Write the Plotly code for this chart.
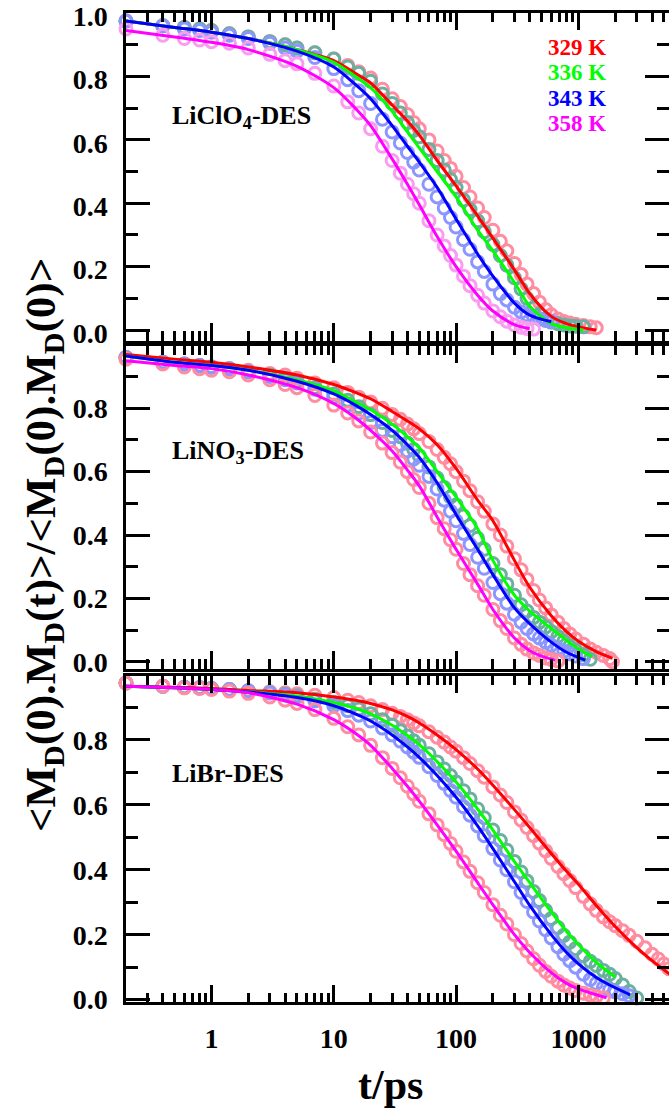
import math
import plotly.graph_objects as go

# ---------------- data ----------------
# sampling times (ps) of the simulated correlation functions
T1 = [0.2, 0.4, 0.6, 0.8, 1, 1.4, 2, 3, 4, 5, 7, 10, 13, 16, 20, 25, 30, 35, 40, 45,
      50, 60, 70, 80, 90, 100, 115, 130, 150, 170, 200, 230, 260, 300, 340, 380, 430,
      480, 540, 600, 680, 760, 850, 950, 1100, 1250, 1400]
T2 = T1 + [1600, 1800, 1900]
T3 = T1 + [1600, 1800, 2000, 2300, 2600, 3000, 3500, 4000, 4500, 5000, 5500, 6000]

temps = ["329 K", "336 K", "343 K", "358 K"]

# LiClO4-DES : simulation points
p1_329 = [0.975, 0.96, 0.955, 0.95, 0.945, 0.935, 0.925, 0.91, 0.9, 0.89,
          0.875, 0.855, 0.835, 0.815, 0.795, 0.76, 0.73, 0.705, 0.68, 0.655,
          0.635, 0.6, 0.565, 0.535, 0.51, 0.485, 0.45, 0.42, 0.385, 0.355,
          0.315, 0.28, 0.25, 0.21, 0.175, 0.145, 0.115, 0.088, 0.065, 0.048,
          0.035, 0.027, 0.022, 0.018, 0.014, 0.01, 0.007]
p1_336 = [0.975, 0.96, 0.955, 0.95, 0.945, 0.935, 0.925, 0.91, 0.9, 0.89,
          0.875, 0.855, 0.83, 0.81, 0.785, 0.745, 0.715, 0.685, 0.655, 0.63,
          0.61, 0.57, 0.535, 0.505, 0.475, 0.45, 0.41, 0.38, 0.345, 0.31,
          0.27, 0.235, 0.205, 0.165, 0.13, 0.1, 0.07, 0.05, 0.035, 0.025,
          0.02, 0.016, 0.013, 0.012, 0.01]
p1_343 = [0.975, 0.96, 0.95, 0.945, 0.94, 0.93, 0.92, 0.905, 0.89, 0.88,
          0.86, 0.825, 0.79, 0.755, 0.715, 0.665, 0.625, 0.59, 0.56, 0.53,
          0.505, 0.46, 0.42, 0.385, 0.355, 0.325, 0.285, 0.255, 0.215, 0.185,
          0.145, 0.115, 0.095, 0.072, 0.057, 0.047, 0.04, 0.035, 0.03, 0.027]
p1_358 = [0.95, 0.93, 0.92, 0.915, 0.91, 0.905, 0.89, 0.87, 0.85, 0.84,
          0.81, 0.77, 0.72, 0.685, 0.635, 0.58, 0.535, 0.495, 0.46, 0.43,
          0.40, 0.345, 0.30, 0.265, 0.235, 0.205, 0.17, 0.14, 0.11, 0.085,
          0.06, 0.042, 0.028, 0.016, 0.009, 0.005, 0.003]

# LiClO4-DES : fitted curves
f1_329_t = [0.2, 0.5, 1, 2, 5, 10, 15, 20, 30, 40, 50, 70, 100, 150, 200, 300, 400, 600, 800, 1000, 1400]
f1_329 = [0.975, 0.955, 0.94, 0.92, 0.885, 0.85, 0.81, 0.78, 0.71, 0.66, 0.615, 0.535, 0.455,
          0.36, 0.29, 0.19, 0.115, 0.043, 0.02, 0.01, 0.0]
f1_336_t = [0.2, 0.5, 1, 2, 5, 10, 15, 20, 30, 40, 50, 70, 100, 150, 200, 300, 400, 600, 800, 1100]
f1_336 = [0.975, 0.955, 0.94, 0.92, 0.885, 0.845, 0.80, 0.765, 0.69, 0.625, 0.575, 0.50, 0.42,
          0.315, 0.25, 0.15, 0.075, 0.02, 0.007, 0.0]
f1_343_t = [0.2, 0.5, 1, 2, 5, 10, 15, 20, 30, 40, 50, 70, 100, 150, 200, 300, 400, 600]
f1_343 = [0.975, 0.955, 0.94, 0.92, 0.88, 0.83, 0.775, 0.73, 0.645, 0.58, 0.53, 0.45, 0.35,
          0.24, 0.17, 0.085, 0.047, 0.026]
f1_358_t = [0.2, 0.5, 1, 2, 5, 10, 15, 20, 30, 40, 50, 70, 100, 150, 200, 300, 400]
f1_358 = [0.945, 0.925, 0.908, 0.885, 0.832, 0.765, 0.70, 0.645, 0.54, 0.46, 0.395, 0.295,
          0.20, 0.11, 0.06, 0.017, 0.004]

# LiNO3-DES : simulation points
p2_329 = [0.96, 0.945, 0.94, 0.935, 0.93, 0.925, 0.92, 0.91, 0.905, 0.895,
          0.88, 0.865, 0.85, 0.835, 0.82, 0.80, 0.78, 0.765, 0.75, 0.735,
          0.72, 0.695, 0.67, 0.645, 0.625, 0.6, 0.57, 0.54, 0.505, 0.475,
          0.435, 0.4, 0.365, 0.325, 0.29, 0.26, 0.225, 0.195, 0.17, 0.148,
          0.125, 0.105, 0.088, 0.072, 0.055, 0.04, 0.03, 0.02, 0.01, 0.0]
p2_336 = [0.96, 0.945, 0.94, 0.935, 0.93, 0.925, 0.915, 0.905, 0.895, 0.885,
          0.865, 0.845, 0.825, 0.805, 0.78, 0.755, 0.73, 0.71, 0.69, 0.67,
          0.65, 0.615, 0.58, 0.55, 0.52, 0.495, 0.46, 0.43, 0.39, 0.355,
          0.31, 0.275, 0.245, 0.21, 0.18, 0.16, 0.14, 0.125, 0.11, 0.095,
          0.08, 0.065, 0.05, 0.038, 0.022, 0.008]
p2_343 = [0.96, 0.945, 0.94, 0.935, 0.93, 0.925, 0.915, 0.9, 0.89, 0.88,
          0.86, 0.835, 0.81, 0.785, 0.755, 0.73, 0.71, 0.685, 0.665, 0.64,
          0.62, 0.585, 0.545, 0.51, 0.475, 0.445, 0.405, 0.37, 0.33, 0.295,
          0.25, 0.215, 0.185, 0.15, 0.125, 0.105, 0.088, 0.075, 0.062, 0.052,
          0.042, 0.033, 0.025, 0.018, 0.01]
p2_358 = [0.955, 0.94, 0.93, 0.925, 0.92, 0.915, 0.905, 0.89, 0.875, 0.865,
          0.84, 0.81, 0.785, 0.76, 0.725, 0.69, 0.66, 0.63, 0.6, 0.575,
          0.55, 0.5, 0.455, 0.42, 0.385, 0.355, 0.31, 0.275, 0.24, 0.21,
          0.165, 0.13, 0.105, 0.075, 0.055, 0.04, 0.028, 0.02, 0.012, 0.007,
          0.003]

# LiNO3-DES : fitted curves
f2_329_t = [0.2, 0.5, 1, 2, 5, 10, 15, 20, 30, 40, 50, 70, 100, 150, 200, 300, 400, 600, 800, 1000, 1400, 1900]
f2_329 = [0.97, 0.955, 0.945, 0.93, 0.905, 0.875, 0.85, 0.83, 0.79, 0.76, 0.735, 0.685, 0.61,
          0.51, 0.445, 0.32, 0.235, 0.145, 0.095, 0.065, 0.032, 0.011]
f2_336_t = [0.2, 0.5, 1, 2, 5, 10, 15, 20, 30, 40, 50, 70, 100, 150, 200, 300, 400, 600, 800, 1000, 1300]
f2_336 = [0.965, 0.945, 0.935, 0.92, 0.89, 0.855, 0.82, 0.795, 0.75, 0.71, 0.675, 0.60, 0.52,
          0.42, 0.32, 0.21, 0.16, 0.105, 0.068, 0.04, 0.015]
f2_343_t = [0.2, 0.5, 1, 2, 5, 10, 15, 20, 30, 40, 50, 70, 100, 150, 200, 300, 400, 600, 800, 1140]
f2_343 = [0.965, 0.945, 0.935, 0.92, 0.885, 0.845, 0.81, 0.78, 0.73, 0.685, 0.645, 0.565, 0.465,
          0.355, 0.275, 0.17, 0.12, 0.062, 0.03, 0.005]
f2_358_t = [0.2, 0.5, 1, 2, 5, 10, 15, 20, 30, 40, 50, 70, 100, 150, 200, 300, 400, 500, 650]
f2_358 = [0.95, 0.935, 0.925, 0.905, 0.865, 0.815, 0.77, 0.73, 0.665, 0.605, 0.555, 0.457, 0.355,
          0.245, 0.165, 0.075, 0.035, 0.018, 0.005]

# LiBr-DES : simulation points
p3_329 = [0.975, 0.965, 0.962, 0.96, 0.958, 0.955, 0.952, 0.948, 0.945, 0.942,
          0.937, 0.93, 0.922, 0.915, 0.905, 0.893, 0.882, 0.872, 0.862, 0.852,
          0.843, 0.825, 0.808, 0.793, 0.778, 0.765, 0.745, 0.727, 0.705, 0.685,
          0.655, 0.63, 0.607, 0.578, 0.553, 0.53, 0.505, 0.482, 0.458, 0.435,
          0.41, 0.388, 0.367, 0.345, 0.318, 0.295, 0.275, 0.255, 0.24, 0.228,
          0.212, 0.198, 0.18, 0.16, 0.14, 0.125, 0.11, 0.095, 0.08]
p3_336 = [0.975, 0.965, 0.962, 0.96, 0.958, 0.955, 0.95, 0.945, 0.94, 0.935,
          0.925, 0.915, 0.905, 0.895, 0.88, 0.862, 0.845, 0.828, 0.812, 0.797,
          0.783, 0.757, 0.732, 0.71, 0.69, 0.67, 0.643, 0.618, 0.587, 0.56,
          0.522, 0.49, 0.46, 0.425, 0.393, 0.365, 0.333, 0.305, 0.275, 0.25,
          0.222, 0.198, 0.177, 0.157, 0.135, 0.118, 0.105, 0.09, 0.078, 0.065,
          0.045, 0.025, 0.005]
p3_343 = [0.975, 0.965, 0.962, 0.96, 0.958, 0.955, 0.95, 0.944, 0.938, 0.932,
          0.92, 0.905, 0.89, 0.876, 0.858, 0.836, 0.815, 0.796, 0.778, 0.762,
          0.746, 0.717, 0.69, 0.666, 0.644, 0.623, 0.594, 0.568, 0.535, 0.505,
          0.465, 0.43, 0.4, 0.363, 0.33, 0.302, 0.27, 0.242, 0.215, 0.19,
          0.163, 0.14, 0.12, 0.1, 0.078, 0.062, 0.05, 0.038, 0.03, 0.024,
          0.018, 0.012]
p3_358 = [0.975, 0.965, 0.96, 0.958, 0.955, 0.95, 0.943, 0.932, 0.922, 0.912,
          0.893, 0.866, 0.84, 0.815, 0.783, 0.745, 0.712, 0.683, 0.657, 0.633,
          0.611, 0.572, 0.538, 0.508, 0.481, 0.457, 0.424, 0.395, 0.36, 0.33,
          0.292, 0.26, 0.233, 0.2, 0.173, 0.15, 0.126, 0.106, 0.087, 0.072,
          0.057, 0.045, 0.036, 0.028, 0.02, 0.014, 0.01, 0.006]

# LiBr-DES : fitted curves
f3_329_t = [0.2, 0.5, 1, 2, 5, 10, 15, 20, 30, 40, 50, 70, 100, 150, 200, 300, 400, 600, 800, 1000,
            1400, 2000, 3000, 4000, 6000]
f3_329 = [0.965, 0.962, 0.958, 0.952, 0.945, 0.932, 0.922, 0.912, 0.892, 0.872, 0.852, 0.815, 0.77,
          0.71, 0.66, 0.585, 0.53, 0.45, 0.395, 0.355, 0.29, 0.225, 0.16, 0.12, 0.07]
f3_336_t = [0.2, 0.5, 1, 2, 5, 10, 15, 20, 30, 40, 50, 70, 100, 150, 200, 300, 400, 600, 800, 1000,
            1400, 2000]
f3_336 = [0.965, 0.96, 0.955, 0.948, 0.935, 0.915, 0.897, 0.88, 0.845, 0.813, 0.785, 0.733, 0.67,
          0.587, 0.522, 0.425, 0.36, 0.27, 0.21, 0.17, 0.115, 0.07]
f3_343_t = [0.2, 0.5, 1, 2, 5, 10, 15, 20, 30, 40, 50, 70, 100, 150, 200, 300, 400, 600, 800, 1000,
            1400, 1800, 2650]
f3_343 = [0.965, 0.96, 0.955, 0.947, 0.93, 0.905, 0.88, 0.858, 0.815, 0.778, 0.746, 0.69, 0.623,
          0.535, 0.465, 0.363, 0.29, 0.2, 0.145, 0.11, 0.068, 0.045, 0.015]
f3_358_t = [0.2, 0.5, 1, 2, 5, 10, 15, 20, 30, 40, 50, 70, 100, 150, 200, 300, 400, 600, 800, 1000,
            1400, 1700]
f3_358 = [0.965, 0.96, 0.955, 0.945, 0.91, 0.862, 0.82, 0.783, 0.712, 0.657, 0.611, 0.538, 0.457,
          0.36, 0.292, 0.2, 0.145, 0.083, 0.05, 0.033, 0.015, 0.006]

panels = [
    {"label": "LiClO<sub>4</sub>-DES", "T": T1,
     "points": [p1_329, p1_336, p1_343, p1_358],
     "fits": [(f1_329_t, f1_329), (f1_336_t, f1_336), (f1_343_t, f1_343), (f1_358_t, f1_358)],
     "yrange": [-0.033, 1.002], "px": (12.5, 340.5), "label_y": 117, "shift": 3},
    {"label": "LiNO<sub>3</sub>-DES", "T": T2,
     "points": [p2_329, p2_336, p2_343, p2_358],
     "fits": [(f2_329_t, f2_329), (f2_336_t, f2_336), (f2_343_t, f2_343), (f2_358_t, f2_358)],
     "yrange": [-0.022, 0.998], "px": (345.5, 668.75), "label_y": 452, "shift": 0},
    {"label": "LiBr-DES", "T": T3,
     "points": [p3_329, p3_336, p3_343, p3_358],
     "fits": [(f3_329_t, f3_329), (f3_336_t, f3_336), (f3_343_t, f3_343), (f3_358_t, f3_358)],
     "yrange": [-0.008, 0.998], "px": (675.5, 1002.25), "label_y": 773, "shift": 0},
]

# ---------------- style ----------------
W, H = 669, 1111
LEFT = 126
line_colors = ["#ff0000", "#00ff00", "#0000ff", "#ff00ff"]
point_colors = [
    ["#ff8ca0", "#6aafa0", "#8c96ff", "#fa9cf0"],
    ["#ff8ca0", "#6aafa0", "#8c96ff", "#ff8ca0"],
    ["#ff8ca0", "#6aafa0", "#8c96ff", "#ff8ca0"],
]
SERIF = "Liberation Serif"
XMIN = math.log10(0.2)
XMAX = XMIN + (W - LEFT) / 122.3

minor_x = [m * 10 ** e for e in range(-1, 4) for m in range(2, 10)]

fig = go.Figure()

for i, pnl in enumerate(panels):
    xa = "x" if i == 0 else f"x{i + 1}"
    ya = "y" if i == 0 else f"y{i + 1}"
    T = pnl["T"]
    # simulation points (open circles)
    for k, vals in enumerate(pnl["points"]):
        fig.add_trace(go.Scatter(
            x=T[:len(vals)], y=vals, mode="markers", xaxis=xa, yaxis=ya,
            cliponaxis=False,
            marker=dict(symbol="circle-open", size=12,
                        color=point_colors[i][k],
                        line=dict(width=3, color=point_colors[i][k])),
            showlegend=False, hoverinfo="skip"))
    # fitted curves on top
    for k, (ft, fv) in enumerate(pnl["fits"]):
        fig.add_trace(go.Scatter(
            x=ft, y=fv, mode="lines", xaxis=xa, yaxis=ya,
            line=dict(color=line_colors[k], width=3, shape="spline", smoothing=0.8),
            showlegend=False, hoverinfo="skip"))

axis_common = dict(showline=True, linewidth=2.5, linecolor="black", mirror="ticks",
                   ticks="inside", tickwidth=2.5, tickcolor="black", showgrid=False,
                   zeroline=False, ticklabeloverflow="allow", automargin=False)
tick_font = dict(family=SERIF, size=28, color="black", weight="bold")

layout = dict(width=W, height=H, paper_bgcolor="white", plot_bgcolor="white",
              margin=dict(l=LEFT, r=0, t=0, b=0, autoexpand=False), showlegend=False)

for i, pnl in enumerate(panels):
    top_px, bot_px = pnl["px"]
    dom = [1 - bot_px / H, 1 - top_px / H]
    xname = "xaxis" if i == 0 else f"xaxis{i + 1}"
    yname = "yaxis" if i == 0 else f"yaxis{i + 1}"
    ya = "y" if i == 0 else f"y{i + 1}"
    xa = "x" if i == 0 else f"x{i + 1}"
    layout[xname] = dict(
        type="log", range=[XMIN, XMAX], domain=[0, 1], anchor=ya,
        tickmode="array", tickvals=[1, 10, 100, 1000], ticktext=["1", "10", "100", "1000"],
        ticklen=18, showticklabels=(i == 2), tickfont=tick_font, ticklabelstandoff=9,
        minor=dict(tickmode="array", tickvals=minor_x, ticks="inside", ticklen=10,
                   tickwidth=2.5, tickcolor="black", showgrid=False),
        **axis_common)
    layout[yname] = dict(
        range=pnl["yrange"], domain=dom, anchor=xa,
        tickmode="linear", tick0=0, dtick=0.2, tickformat=".1f", ticklen=24,
        tickfont=tick_font, ticklabelstandoff=10, ticklabelshift=pnl["shift"],
        minor=dict(tickmode="linear", tick0=0, dtick=0.1, ticks="inside", ticklen=12,
                   tickwidth=2.5, tickcolor="black", showgrid=False),
        **axis_common)

fig.update_layout(**layout)


def px_x(p):
    # paper x is measured from the left edge of the plotting area
    return (p - LEFT) / (W - LEFT)


def px_y(p):
    return 1 - p / H


annotations = []
# panel labels
for pnl in panels:
    annotations.append(dict(text=pnl["label"], x=px_x(170), y=px_y(pnl["label_y"]),
                            xref="paper", yref="paper", xanchor="left", yanchor="middle",
                            showarrow=False,
                            font=dict(family=SERIF, size=26, color="black", weight="bold")))
# temperature key
for k, (lab, yy) in enumerate(zip(temps, [47, 72, 98, 124])):
    annotations.append(dict(text=lab, x=px_x(577), y=px_y(yy), xref="paper", yref="paper",
                            xanchor="center", yanchor="middle", showarrow=False,
                            font=dict(family=SERIF, size=23, color=line_colors[k], weight="bold")))
# axis titles
annotations.append(dict(text="t/ps", x=px_x(390), y=px_y(1085), xref="paper", yref="paper",
                        xanchor="center", yanchor="middle", showarrow=False,
                        font=dict(family=SERIF, size=42, color="black", weight="bold")))
annotations.append(dict(
    text="&lt;M<sub>D</sub>(0).M<sub>D</sub>(t)&gt;/&lt;M<sub>D</sub>(0).M<sub>D</sub>(0)&gt;",
    x=px_x(44), y=px_y(545), xref="paper", yref="paper", xanchor="center", yanchor="middle",
    textangle=-90, showarrow=False,
    font=dict(family=SERIF, size=43, color="black", weight="bold")))

fig.update_layout(annotations=annotations)

fig.write_html("out.html")
